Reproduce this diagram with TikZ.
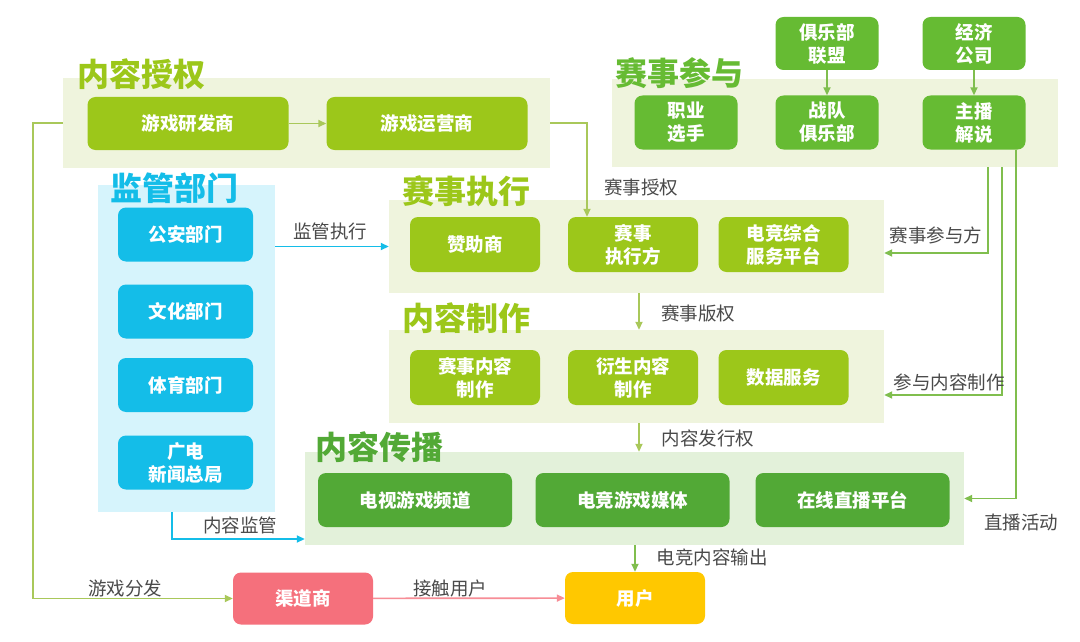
\documentclass[tikz,border=0pt]{standalone}
\usepackage{fontspec}
\setmainfont{Noto Sans CJK SC}
\usepackage{tikz}
\usetikzlibrary{arrows.meta,positioning,calc}
\usepackage{xcolor}
\definecolor{limebox}{HTML}{9CC71A}
\definecolor{limepanel}{HTML}{EFF4DD}
\definecolor{partgreen}{HTML}{66BB33}
\definecolor{distgreen}{HTML}{52A936}
\definecolor{distpanel}{HTML}{E3F1DA}
\definecolor{regcyan}{HTML}{14BDE8}
\definecolor{regpanel}{HTML}{D6F4FC}
\definecolor{linkgreen}{HTML}{A9C85A}
\definecolor{sidegreen}{HTML}{80BE4E}
\definecolor{channelred}{HTML}{F5707C}
\definecolor{useryellow}{HTML}{FFC800}
\definecolor{labelgray}{HTML}{4A4A4A}

\begin{document}
\begin{tikzpicture}[x=1pt, y=-1pt,
  panel/.style={rectangle, fill=limepanel, inner sep=0pt},
  title/.style={anchor=west, inner sep=0pt, font=\fontsize{32}{36}\selectfont\bfseries},
  box/.style={rectangle, rounded corners=8pt, fill=limebox, text=white, align=center, inner sep=0pt, font=\fontsize{18.5}{23}\selectfont\bfseries},
  abox/.style={box, minimum width=201pt, minimum height=53pt},
  lbox/.style={box, minimum width=130pt, minimum height=55pt},
  pbox/.style={box, fill=partgreen, minimum width=103pt, minimum height=54pt},
  dbox/.style={box, fill=distgreen, minimum width=194pt, minimum height=54pt},
  rbox/.style={box, fill=regcyan, minimum width=135pt, minimum height=54pt},
  ubox/.style={box, minimum width=140pt, minimum height=52pt},
  lbl/.style={inner sep=0pt, text=labelgray, font=\fontsize{18.5}{22}\selectfont},
  link/.style={-{Triangle[length=8pt,width=7pt]}, line width=1.7pt, linkgreen},
  side/.style={-{Triangle[length=8pt,width=7pt]}, line width=1.7pt, sidegreen},
  cyanarr/.style={-{Triangle[length=8pt,width=7pt]}, line width=1.7pt, regcyan},
  pinkarr/.style={-{Triangle[length=8pt,width=7pt]}, line width=1.7pt, channelred!80!white}
]
  \useasboundingbox (0,0) rectangle (1080,642);
  \fill[white] (0,0) rectangle (1080,642);

  % panels
  \node[panel, minimum width=487pt, minimum height=90pt] (auth) at (306.5,123) {};
  \node[panel, minimum width=446pt, minimum height=88pt] (part) at (835,123) {};
  \node[panel, minimum width=177pt, minimum height=327pt, fill=regpanel] (reg) at (186.5,348.5) {};
  \node[panel, minimum width=495pt, minimum height=93pt] (exec) at (636.5,246.5) {};
  \node[panel, minimum width=495pt, minimum height=93pt] (prod) at (636.5,376.5) {};
  \node[panel, minimum width=659pt, minimum height=93pt, fill=distpanel] (dist) at (634.5,498.5) {};

  % titles
  \node[title, text=limebox] (tAuth) at (77,74) {内容授权};
  \node[title, text=partgreen] (tPart) at (615,73) {赛事参与};
  \node[title, text=regcyan] (tReg) at (110,188) {监管部门};
  \node[title, text=limebox] (tExec) at (402,191) {赛事执行};
  \node[title, text=limebox] (tProd) at (402,318) {内容制作};
  \node[title, text=distgreen] (tDist) at (315,447) {内容传播};

  % content licensing
  \node[abox] (dev) at (188,123.5) {游戏研发商};
  \node[abox] (op)  at (427,123.5) {游戏运营商};

  % participants
  \node[pbox] (pro)    at (686,122.5) {职业\\选手};
  \node[pbox] (team)   at (827,122.5) {战队\\俱乐部};
  \node[pbox] (anchor) at (974,122.5) {主播\\解说};
  \node[pbox, minimum height=53pt] (league) at (827,43.5) {俱乐部\\联盟};
  \node[pbox, minimum height=53pt] (agency) at (974,43.5) {经济\\公司};

  % regulators
  \node[rbox] (police)  at (185.5,234.5) {公安部门};
  \node[rbox] (culture) at (185.5,311.5) {文化部门};
  \node[rbox] (sport)   at (185.5,385)   {体育部门};
  \node[rbox] (sarft)   at (185.5,462.5) {广电\\新闻总局};

  % execution
  \node[lbox] (sponsor)   at (475,244.5)   {赞助商};
  \node[lbox] (organizer) at (633,244.5)   {赛事\\执行方};
  \node[lbox] (platform)  at (783.5,244.5) {电竞综合\\服务平台};

  % production
  \node[lbox] (matchcont) at (475,377.5)   {赛事内容\\制作};
  \node[lbox] (derived)   at (633,377.5)   {衍生内容\\制作};
  \node[lbox] (data)      at (783.5,377.5) {数据服务};

  % distribution
  \node[dbox] (tv)    at (415,500)   {电视游戏频道};
  \node[dbox] (media) at (632.5,500) {电竞游戏媒体};
  \node[dbox] (live)  at (852.5,500) {在线直播平台};

  % end of chain
  \node[ubox, fill=channelred] (channel) at (303,598.5) {渠道商};
  \node[ubox, fill=useryellow] (user)    at (635,598)   {用户};

  % connectors
  \draw[link] (dev) -- (op);
  \draw[link] (auth.west) -- ++(-30,0) |- (channel.west);
  \draw[link] (auth.east) -| ([xshift=-46pt]organizer.north);
  \foreach \a/\b in {league/team, agency/anchor}{\draw[side] (\a.south) -- (\b.north);}

  \coordinate (tapA) at (988,167);
  \coordinate (tapB) at (1002,167);
  \draw[side] (tapA) |- ([yshift=-6.5pt]exec.east);
  \draw[side] (tapB) |- ([yshift=-18.5pt]prod.east);
  \draw[side] ([xshift=42pt]anchor.south) |- (dist.east);

  \draw[cyanarr] (reg.east |- exec.west) -- (exec.west);
  \draw[cyanarr] ([xshift=-14.5pt]reg.south) |- ([yshift=-40.5pt]dist.west);

  \draw[link] ([xshift=2.5pt]exec.south) -- ([xshift=2.5pt]prod.north);
  \draw[link] ([xshift=2.5pt]prod.south) -- ([xshift=2.5pt]prod.south |- dist.north);
  \draw[side] (user.north |- dist.south) -- (user.north);
  \draw[pinkarr] (channel) -- (user);

  % labels
  \node[lbl] (lLicense) at (641,187) {赛事授权};
  \node[lbl] (lSuper)   at (330,231) {监管执行};
  \node[lbl] (lPart)    at (936,235) {赛事参与方};
  \node[lbl] (lRights)  at (698,313) {赛事版权};
  \node[lbl] (lJoin)    at (949,382) {参与内容制作};
  \node[lbl] (lIssue)   at (708,438) {内容发行权};
  \node[lbl] (lLive)    at (1021,522) {直播活动};
  \node[lbl] (lMon)     at (240,525) {内容监管};
  \node[lbl] (lOutput)  at (712,557) {电竞内容输出};
  \node[lbl] (lDistr)   at (125,588) {游戏分发};
  \node[lbl] (lReach)   at (450,588) {接触用户};
\end{tikzpicture}
\end{document}
